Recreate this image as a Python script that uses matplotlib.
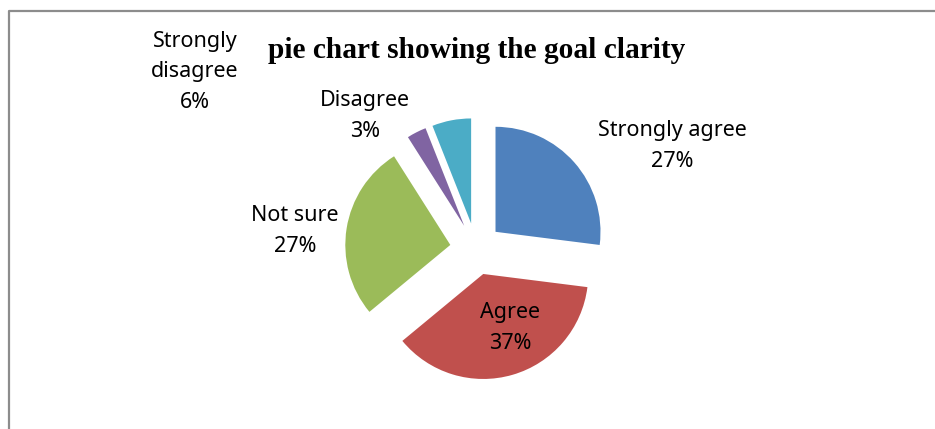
import matplotlib
matplotlib.use("Agg")
import matplotlib.pyplot as plt

categories = ["Strongly agree", "Agree", "Not sure", "Disagree", "Strongly disagree"]
percentages = [27, 37, 27, 3, 6]
label_texts = ["Strongly agree\n27%", "Agree\n37%", "Not sure\n27%", "Disagree\n3%", "Strongly\ndisagree\n6%"]
colors = ["#4F81BD", "#C0504D", "#9BBB59", "#8064A2", "#4BACC6"]
title = "pie chart showing the goal clarity"

W, H = 935, 429
fig = plt.figure(figsize=(W / 100, H / 100), dpi=100)
ax = fig.add_axes([0, 0, 1, 1])

# chart border (top and left visible)
ax.plot([8.5, 8.5, W + 5], [-5, H - 10.5, H - 10.5], color="#8c8c8c", lw=1.6, solid_capstyle="butt")

cx, cy, r = 476, H - 249, 105
ax.pie(percentages, colors=colors, startangle=90, counterclock=False,
       explode=[26] * len(percentages), radius=r, center=(cx, cy),
       wedgeprops=dict(linewidth=0), frame=True)
ax.set_xlim(0, W)
ax.set_ylim(0, H)
ax.set_aspect("equal")
ax.axis("off")

label_pos = [(672, 146), (510, 328), (295, 231), (365, 116), (195, 72)]
font = ["Noto Sans", "DejaVu Sans"]
for (x, y), t in zip(label_pos, label_texts):
    ax.text(x, H - y, t, ha="center", va="center", fontsize=15.5, family=font,
            linespacing=1.62, color="black")

ax.text(477, H - 50, title, ha="center", va="center", fontsize=21.2,
        family=["Liberation Serif", "DejaVu Serif"], fontweight="bold")

fig.savefig("out.png", dpi=100)
